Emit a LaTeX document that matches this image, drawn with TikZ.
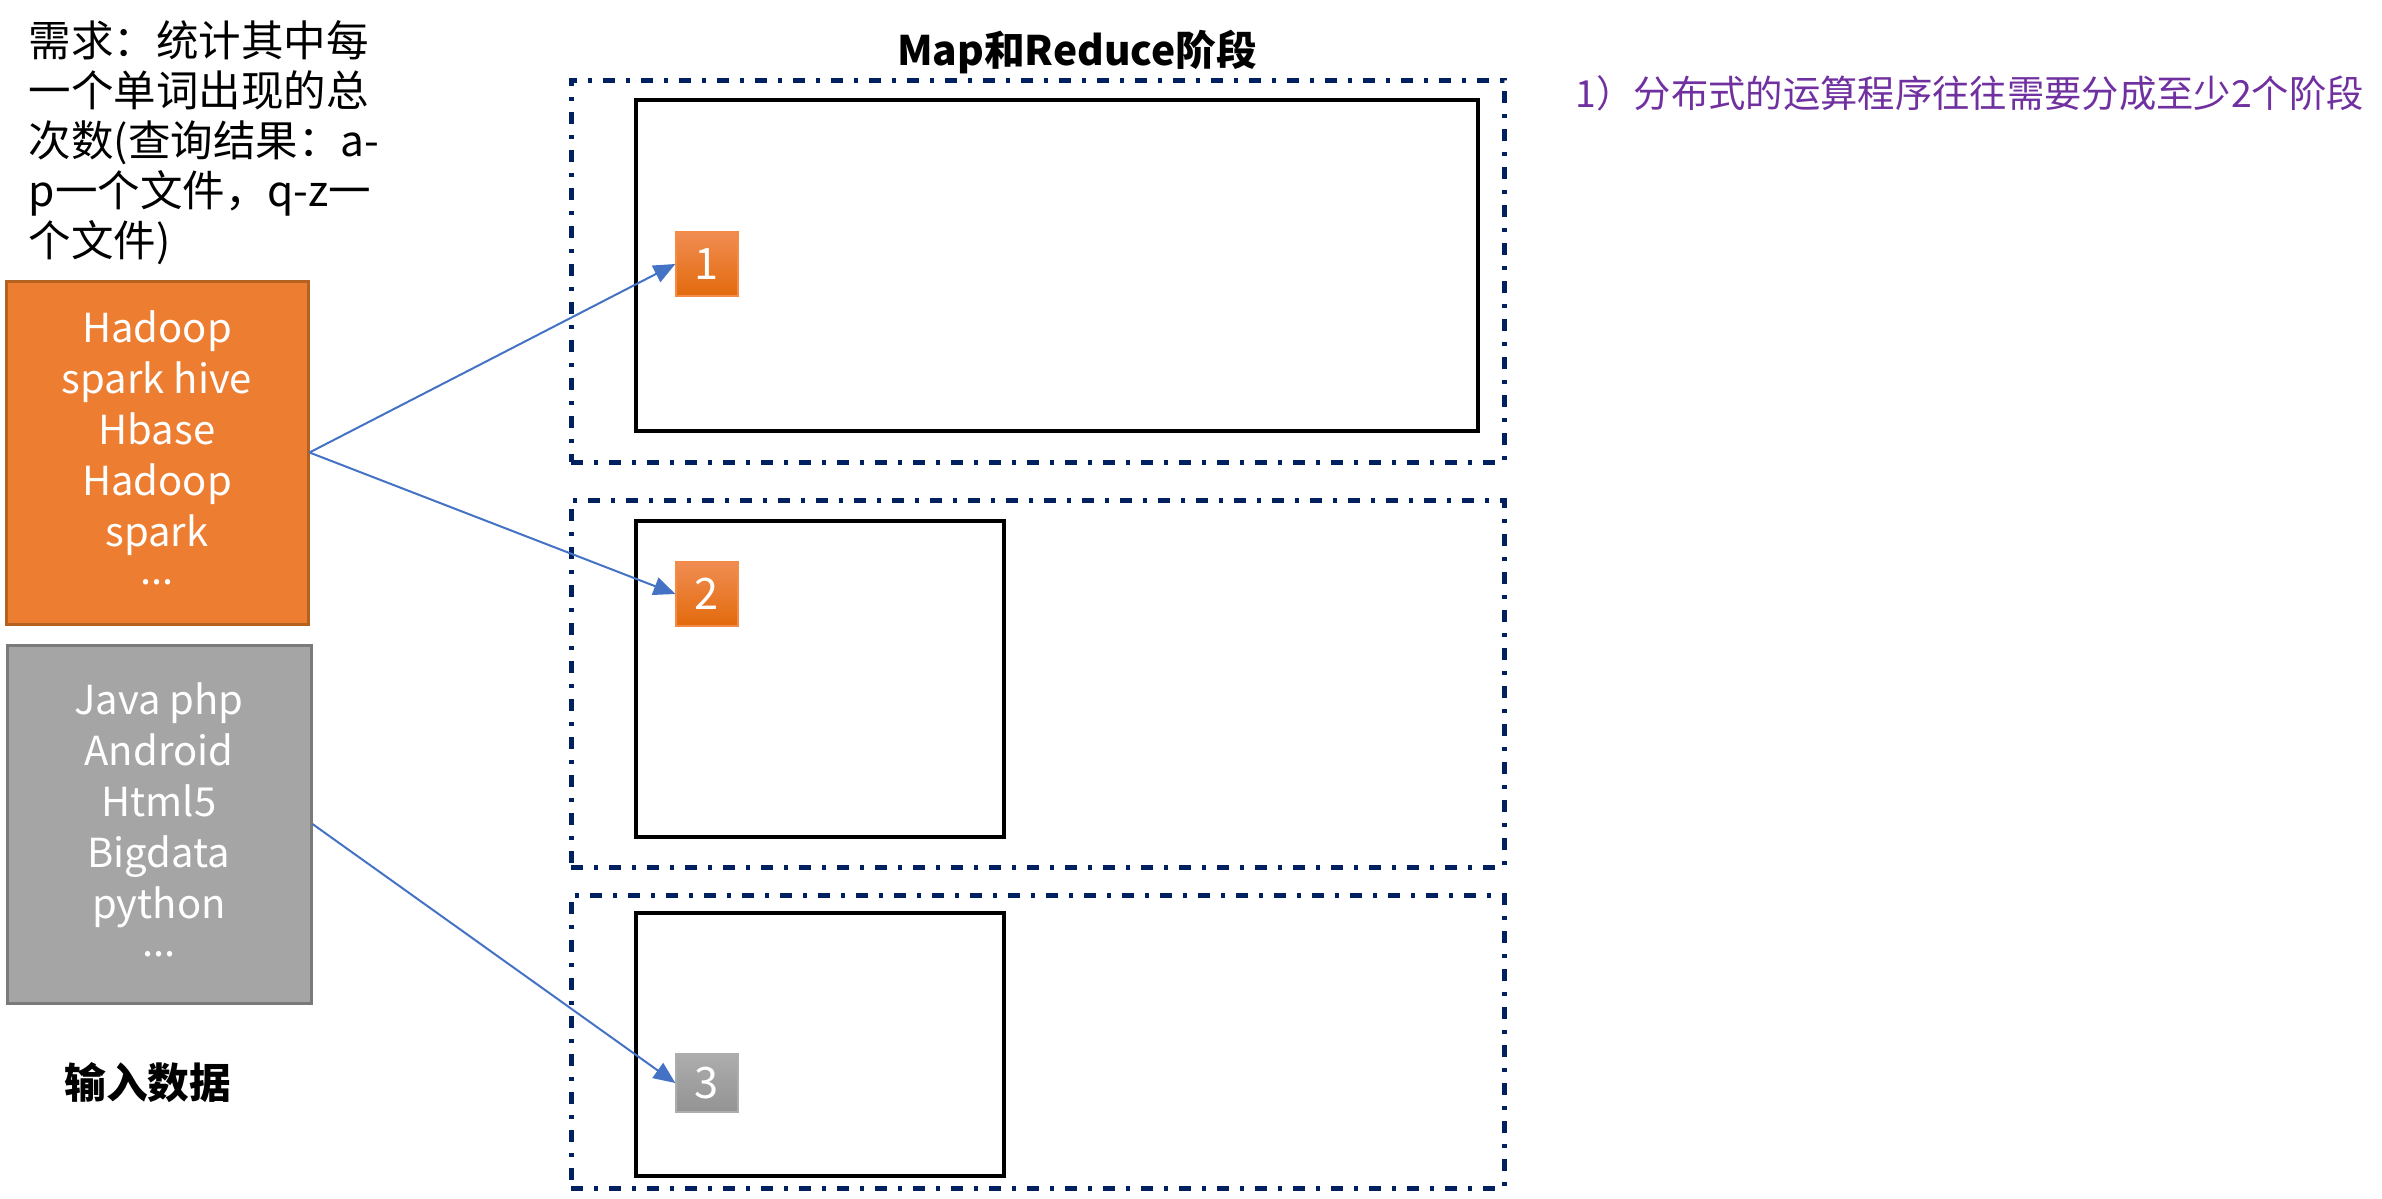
\documentclass[tikz,border=0pt]{standalone}
\usepackage{fontspec}
\setmainfont{Noto Sans CJK SC}
\usetikzlibrary{arrows.meta}
\definecolor{orangefill}{HTML}{ED7D31}
\definecolor{orangeborder}{HTML}{B5611F}
\definecolor{grayfill}{HTML}{A5A5A5}
\definecolor{grayborder}{HTML}{7A7A7A}
\definecolor{arrowblue}{HTML}{4472C4}
\definecolor{navy}{HTML}{002060}
\definecolor{purpletext}{HTML}{7030A0}
\definecolor{badgetop}{HTML}{F08D52}
\definecolor{badgebot}{HTML}{E36A0C}
\definecolor{badgeline}{HTML}{F38A45}
\definecolor{graytop}{HTML}{ADADAD}
\definecolor{graybot}{HTML}{939393}
\begin{document}
\begin{tikzpicture}[x=0.3pt,y=-0.3pt,
  inputbox/.style={rectangle, line width=0.9pt, inner sep=0pt},
  inputtext/.style={text=white, align=center, inner sep=0pt,
    font=\fontsize{12}{15.3}\selectfont},
  phasebox/.style={rectangle, draw=navy, line width=1.5pt,
    dash pattern=on 3.6pt off 3.3pt on 1.2pt off 3.3pt, minimum width=279.9pt, inner sep=0pt},
  workbox/.style={rectangle, draw=black, line width=1.35pt, inner sep=0pt},
  badge/.style={rectangle, draw=badgeline, line width=0.4pt, top color=badgetop, bottom color=badgebot,
    text=white, minimum width=18.6pt, minimum height=19.2pt, inner sep=0pt,
    font=\fontsize{13}{13}\selectfont},
  conn/.style={draw=arrowblue, line width=0.6pt, -{Triangle[length=6.5pt,width=5.5pt]}}
]
\useasboundingbox (0,0) rectangle (2382,1199);

% requirement text
\node[anchor=north west, align=left, inner sep=0pt, font=\fontsize{12.75}{15}\selectfont] (req) at (28,20)
  {需求：统计其中每\\一个单词出现的总\\次数(查询结果：a-\\p一个文件，q-z一\\个文件)};

% input boxes
\node[inputbox, fill=orangefill, draw=orangeborder, minimum width=90.6pt, minimum height=102.9pt] (inA) at (157,452.5) {};
\node[inputtext] (inAtext) at (157,448) {Hadoop\\spark hive\\Hbase\\Hadoop\\spark\\[-4pt]...};
\node[inputbox, fill=grayfill, draw=grayborder, minimum width=91.2pt, minimum height=107.4pt] (inB) at (159,824) {};
\node[inputtext] (inBtext) at (159,819.5) {Java php\\Android\\Html5\\Bigdata\\python\\[-4pt]...};
\node[font=\bfseries\fontsize{12.5}{12.5}\selectfont, inner sep=0pt] (inlabel) at (148,1083) {输入数据};

% title
\node[anchor=base, font=\bfseries\fontsize{12.2}{12.2}\selectfont, inner sep=0pt] (title) at (1077,65) {Map和Reduce阶段};

% note
\node[anchor=base west, text=purpletext, font=\fontsize{11.2}{11.2}\selectfont, inner sep=0pt] (note) at (1575,107)
  {1）分布式的运算程序往往需要分成至少2个阶段};

% phase boxes
\node[phasebox, minimum height=114.6pt] (p1) at (1037.5,271) {};
\node[phasebox, minimum height=110.1pt] (p2) at (1037.5,683.5) {};
\node[phasebox, minimum height=87.9pt] (p3) at (1037.5,1041.5) {};

% work boxes
\node[workbox, minimum width=252.6pt, minimum height=99.3pt] (w1) at (1057,265.5) {};
\node[workbox, minimum width=110.4pt, minimum height=94.8pt] (w2) at (820,679) {};
\node[workbox, minimum width=110.4pt, minimum height=78.9pt] (w3) at (820,1044.5) {};

% badges
\node[badge] (b1) at (707,264) {1};
\node[badge] (b2) at (707,594) {2};
\node[badge, draw=graytop, top color=graytop, bottom color=graybot, minimum height=17.4pt] (b3) at (707,1083) {3};

% connectors
\draw[conn] (inA.east) -- (b1.west);
\draw[conn] (inA.east) -- (b2.west);
\draw[conn] (inB.east) -- (b3.west);
\end{tikzpicture}
\end{document}
